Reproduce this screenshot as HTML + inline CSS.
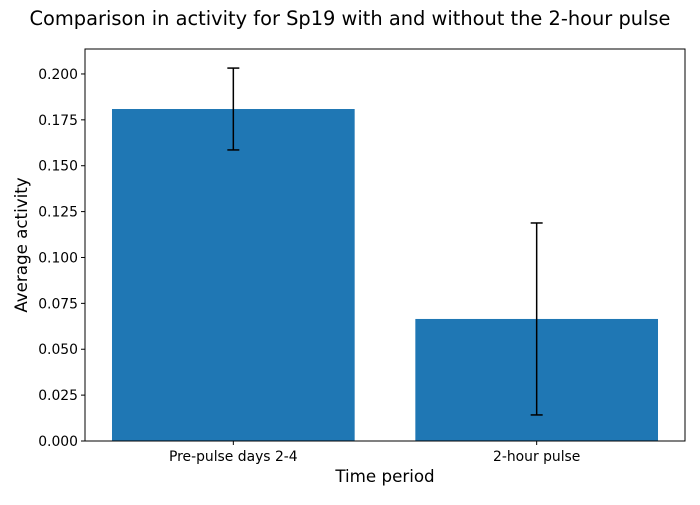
<!DOCTYPE html>
<html><head><meta charset="utf-8"><style>
html,body{margin:0;padding:0;background:#fff;}
svg{font-family:"DejaVu Sans","Liberation Sans",sans-serif;}
</style></head><body>
<svg id="chart" width="700" height="500" viewBox="0 0 700 500">
<text x="350" y="25" text-anchor="middle" font-size="19.4">Comparison in activity for Sp19 with and without the 2-hour pulse</text>
<g id="plot"></g>
<rect x="85" y="49" width="600" height="392" fill="none" stroke="#000" stroke-width="1"/>
<text x="385" y="482" text-anchor="middle" font-size="16.7">Time period</text>
<text transform="translate(27,245) rotate(-90)" text-anchor="middle" font-size="16.7">Average activity</text>
</svg>
<script>
const categories = ["Pre-pulse days 2-4", "2-hour pulse"];
const values = [0.1809, 0.0665];
const errors = [0.0223, 0.0523];
const yTicks = [0, 0.025, 0.05, 0.075, 0.1, 0.125, 0.15, 0.175, 0.2];

const L=85,R=685,T=49,B=441;
const yMax=0.2136, xMin=-0.489, xMax=1.489;
const y=v=>B-(v/yMax)*(B-T);
const x=v=>L+(v-xMin)/(xMax-xMin)*(R-L);
const NS="http://www.w3.org/2000/svg";
const g=document.getElementById('plot');
function mk(tag,attrs){const e=document.createElementNS(NS,tag);for(const k in attrs)e.setAttribute(k,attrs[k]);g.appendChild(e);return e;}

yTicks.forEach(t=>{
  const l=mk('line',{x1:L-4,x2:L,y1:y(t),y2:y(t),stroke:'#000'});
  
  
  const tx=mk('text',{x:L-7,y:y(t)+5,'text-anchor':'end','font-size':'13.9'});
  tx.textContent=t.toFixed(3);
  
  
});
categories.forEach((c,i)=>{
  const bw=x(0.4)-x(-0.4);
  const r=mk('rect',{x:x(i-0.4),y:y(values[i]),width:bw,height:B-y(values[i]),fill:'#1f77b4'});
  
  
  const cx=x(i), y1=y(values[i]+errors[i]), y2=y(values[i]-errors[i]);
  const e=mk('line',{x1:cx,x2:cx,y1:y1,y2:y2,stroke:'#000','stroke-width':1.5});
  
  
  [y1,y2].forEach(yy=>{
    const cap=mk('line',{x1:cx-6,x2:cx+6,y1:yy,y2:yy,stroke:'#000','stroke-width':1.5});
    
    
  });
  const tk=mk('line',{x1:cx,x2:cx,y1:B,y2:B+4,stroke:'#000'});
  
  
  const tl=mk('text',{x:cx,y:B+20,'text-anchor':'middle','font-size':'13.9'});
  tl.textContent=c;
  
  
});
</script>
</body></html>
